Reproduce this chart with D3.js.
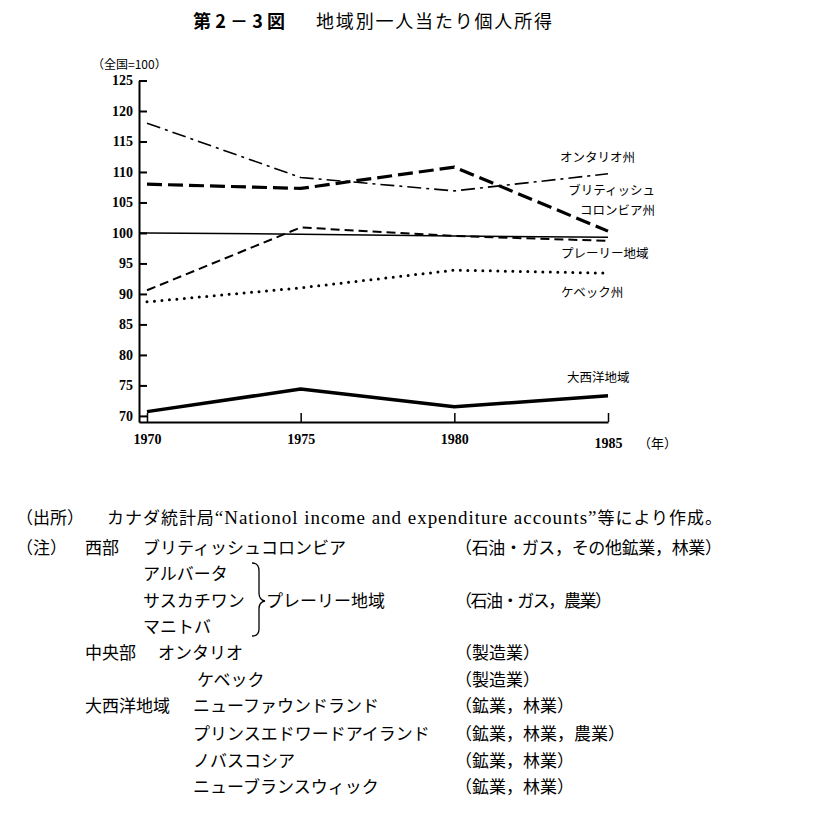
<!DOCTYPE html>
<html><head><meta charset="utf-8">
<script src="https://cdn.jsdelivr.net/npm/d3@7"></script>
<style>
body{margin:0;background:#fff;}
svg{display:block;}
</style></head>
<body>
<svg id="chart" width="813" height="834"></svg>
<script>
// ---- data ----
const years = [1970, 1975, 1980, 1985];
const ontario = [118.0, 109.1, 106.9, 109.7];
const britishColumbia = [108.0, 107.3, 110.8, 100.3];
const prairie = [90.6, 100.9, 99.5, 98.7];
const quebec = [88.7, 91.0, 93.9, 93.4];
const atlantic = [70.7, 74.4, 71.5, 73.3];
const nationalRef = [100.0, 99.8, 99.5, 99.3];
const yTicks = [70, 75, 80, 85, 90, 95, 100, 105, 110, 115, 120, 125];
const xTickLabels = ["1970", "1975", "1980", "1985"];
const seriesNames = ["オンタリオ州", ["ブリティッシュ", "コロンビア州"], "プレーリー地域", "ケベック州", "大西洋地域"];

const serif = "'Liberation Serif','Noto Sans CJK JP',serif";
const cjk = "'Noto Sans CJK JP','Liberation Serif',sans-serif";

const svg = d3.select("#chart");

// ---- title ----
svg.append("text").attr("x", 193).attr("y", 28)
  .attr("font-family", cjk).attr("font-weight", "bold").attr("font-size", 18)
  .attr("textLength", 92).attr("lengthAdjust", "spacing")
  .text("第2－3図");
svg.append("text").attr("x", 316).attr("y", 28)
  .attr("font-family", cjk).attr("font-size", 18)
  .attr("textLength", 236).attr("lengthAdjust", "spacing")
  .text("地域別一人当たり個人所得");

// ---- scales ----
const x = d3.scaleLinear().domain([1969.74, 1985]).range([139, 608]);
const y = d3.scaleLinear().domain([69, 125]).range([422, 80.5]);

// unit label
svg.append("text").attr("x", 92).attr("y", 69)
  .attr("font-family", cjk).attr("font-size", 12)
  .text("（全国=100）");

// ---- axes ----
const yAxis = d3.axisLeft(y).tickValues(yTicks).tickSizeInner(-8).tickSizeOuter(0).tickPadding(6)
  .tickFormat(d3.format("d"));
const gy = svg.append("g").attr("transform", "translate(139,0)").call(yAxis);
gy.select(".domain").attr("stroke", "#000").attr("stroke-width", 2);
gy.selectAll(".tick line").attr("stroke", "#000").attr("stroke-width", 2);
gy.selectAll(".tick text").attr("font-family", serif).attr("font-weight", "bold")
  .attr("font-size", 14).attr("fill", "#000");

const xAxis = d3.axisBottom(x).tickValues(years).tickSizeInner(-9).tickSizeOuter(0).tickPadding(12)
  .tickFormat((d, i) => xTickLabels[i]);
const gx = svg.append("g").attr("transform", "translate(0,422)").call(xAxis);
gx.select(".domain").attr("stroke", "#000").attr("stroke-width", 2);
gx.selectAll(".tick line").attr("stroke", "#000").attr("stroke-width", 1.5);
gx.selectAll(".tick text").attr("font-family", serif).attr("font-weight", "bold")
  .attr("font-size", 14).attr("fill", "#000");
gx.selectAll(".tick text").filter(d => d === 1985).attr("dy", "1.0em");
svg.append("text").attr("x", 638).attr("y", 448)
  .attr("font-family", cjk).attr("font-size", 13).text("（年）");

// ---- lines ----
const line = d3.line().x((d, i) => x(years[i])).y(d => y(d));

// national reference line (starts at axis)
svg.append("path")
  .attr("d", d3.line()([[x(x.domain()[0]), y(nationalRef[0])], ...nationalRef.map((v, i) => [x(years[i]), y(v)])]))
  .attr("fill", "none").attr("stroke", "#000").attr("stroke-width", 1.5);

const styles = [
  {data: ontario, w: 1.6, dash: "14,5,3,5", cap: "butt"},
  {data: britishColumbia, w: 3.2, dash: "15,6", cap: "butt"},
  {data: prairie, w: 2, dash: "9,5", cap: "butt"},
  {data: quebec, w: 3, dash: "0,7.5", cap: "round"},
  {data: atlantic, w: 3.5, dash: null, cap: "butt"}
];
styles.forEach(s => {
  svg.append("path").attr("d", line(s.data))
    .attr("fill", "none").attr("stroke", "#000")
    .attr("stroke-width", s.w)
    .attr("stroke-dasharray", s.dash)
    .attr("stroke-linecap", s.cap)
    .attr("stroke-linejoin", "round");
});

// ---- series labels ----
const lab = (t, xx, yy, anchor) => svg.append("text").attr("x", xx).attr("y", yy)
  .attr("font-family", cjk).attr("font-size", 12.5).attr("text-anchor", anchor || "start").text(t);
lab(seriesNames[0], 560, 162);
lab(seriesNames[1][0], 655, 195, "end");
lab(seriesNames[1][1], 655, 215, "end");
lab(seriesNames[2], 561, 258);
lab(seriesNames[3], 561, 297);
lab(seriesNames[4], 567, 382);

// ---- notes ----
const fs = 17;
const note = (t, xx, yy, opts) => {
  const el = svg.append("text").attr("x", xx).attr("y", yy)
    .attr("font-family", (opts && opts.serif) ? serif : cjk).attr("font-size", fs).text(t);
  if (opts && opts.len) el.attr("textLength", opts.len).attr("lengthAdjust", "spacing");
  return el;
};
note("（出所）", 16, 524);
const src = svg.append("text").attr("x", 107).attr("y", 524).attr("font-size", fs)
  .attr("textLength", 615).attr("lengthAdjust", "spacing");
src.append("tspan").attr("font-family", cjk).text("カナダ統計局");
src.append("tspan").attr("font-family", serif).attr("font-size", 19).text("“Nationol income and expenditure accounts”");
src.append("tspan").attr("font-family", cjk).text("等により作成。");

note("（注）", 16, 554);
note("西部", 85, 554);
note("ブリティッシュコロンビア", 143, 554);
note("（石油・ガス，その他鉱業，林業）", 455, 554, {len: 267});
note("アルバータ", 143, 580);
note("サスカチワン", 143, 607);
note("マニトバ", 143, 633);
svg.append("path")
  .attr("d", "M252,563 Q259,563 259,571 L259,593 Q259,600 265,601 Q259,602 259,609 L259,629 Q259,636 252,636")
  .attr("fill", "none").attr("stroke", "#000").attr("stroke-width", 1.3);
note("プレーリー地域", 266, 607);
note("（石油・ガス，農業）", 455, 607, {len: 157});
note("中央部", 85, 659);
note("オンタリオ", 158, 659);
note("（製造業）", 455, 659);
note("ケベック", 197, 686);
note("（製造業）", 455, 686);
note("大西洋地域", 85, 712);
note("ニューファウンドランド", 193, 712);
note("（鉱業，林業）", 455, 712);
note("プリンスエドワードアイランド", 193, 740);
note("（鉱業，林業，農業）", 455, 740);
note("ノバスコシア", 193, 767);
note("（鉱業，林業）", 455, 767);
note("ニューブランスウィック", 193, 793);
note("（鉱業，林業）", 455, 793);
</script>
</body></html>
